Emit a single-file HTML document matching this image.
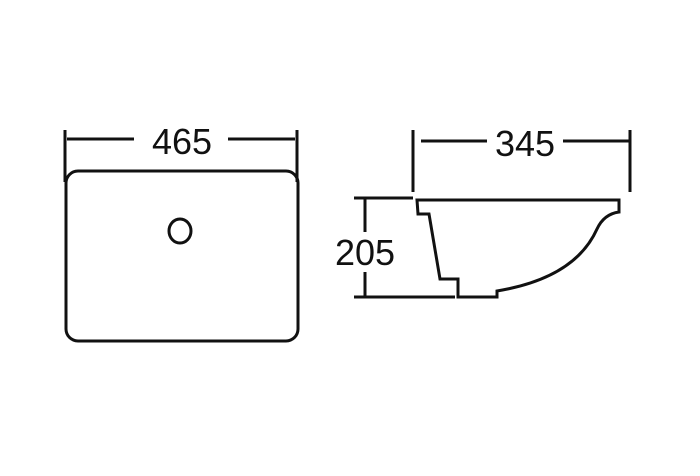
<!DOCTYPE html>
<html><head><style>html,body{margin:0;background:#fff}</style></head><body>
<svg width="700" height="471" viewBox="0 0 700 471" xmlns="http://www.w3.org/2000/svg">
<g stroke="#111" stroke-width="3" fill="none">
<line x1="65" y1="130" x2="65" y2="182"/>
<line x1="297" y1="130" x2="297" y2="182"/>
<line x1="67" y1="139" x2="134" y2="139"/>
<line x1="228" y1="139" x2="295" y2="139"/>
<rect x="66" y="171" width="232" height="170" rx="12"/>
<ellipse cx="180" cy="231" rx="11" ry="12"/>
<line x1="413" y1="130" x2="413" y2="192"/>
<line x1="630" y1="130" x2="630" y2="192"/>
<line x1="421" y1="141" x2="487" y2="141"/>
<line x1="563" y1="141" x2="629" y2="141"/>
<path d="M417 200 L619 200 L619 212 Q604 214 597 229 Q575 278 497 291 L497 297 L458 297 L458 279 L440 279 L429 214 L418 214 Z"/>
<line x1="354" y1="198" x2="413" y2="198"/>
<line x1="354" y1="297" x2="455" y2="297"/>
<line x1="365" y1="198" x2="365" y2="232"/>
<line x1="365" y1="272" x2="365" y2="297"/>
</g>
<g font-family="Liberation Sans, sans-serif" font-size="36" fill="#111" text-anchor="middle">
<text x="182" y="154">465</text>
<text x="525" y="156">345</text>
<text x="365" y="265">205</text>
</g>
</svg>
</body></html>
